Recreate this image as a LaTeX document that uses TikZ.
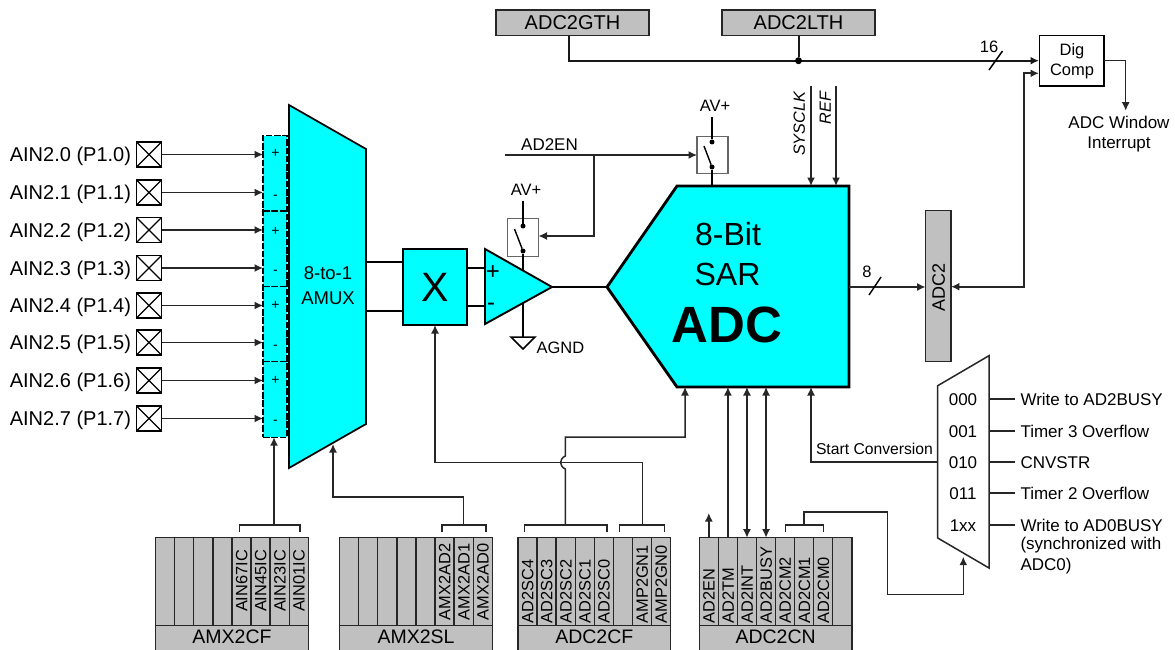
\documentclass[tikz,border=0pt]{standalone}
\usepackage{fontspec}
\setmainfont{Liberation Sans}
\usetikzlibrary{arrows.meta,calc}
\definecolor{cyn}{HTML}{00FFFF}
\definecolor{reg}{HTML}{C0C0C0}
\tikzset{
  lbl/.style={font=\fontsize{#1}{#1}\selectfont,text height=\dimexpr #1pt*716/1000\relax,text depth=0pt,inner sep=0pt,outer sep=0pt},
  wire/.style={line width=1.5pt,draw=black!85},
  arr/.style={wire,-{Latex[length=8.5pt,width=8pt]}},
  darr/.style={wire,{Latex[length=8.5pt,width=8pt]}-{Latex[length=8.5pt,width=8pt]}},
  pinbox/.style={draw,line width=1.3pt,minimum size=25pt,inner sep=0pt,outer sep=0pt,
    path picture={\draw[line width=1.1pt] (path picture bounding box.south west)--(path picture bounding box.north east)
      (path picture bounding box.north west)--(path picture bounding box.south east);}},
  cell/.style={draw=black!85,fill=reg,line width=1.3pt,minimum width=19.07pt,minimum height=88pt,inner sep=0pt,outer sep=0pt},
  hdr/.style={draw=black!85,fill=reg,line width=1.3pt,minimum width=152.5pt,minimum height=26.6pt,inner sep=0pt,outer sep=0pt},
  topreg/.style={draw=black!85,fill=reg,line width=1.6pt,minimum width=153pt,minimum height=25.7pt,inner sep=0pt,outer sep=0pt,font=\fontsize{20}{20}\selectfont},
  swbox/.style={draw=black!60,line width=1.3pt,minimum width=31pt,minimum height=37.5pt,inner sep=0pt,outer sep=0pt},
  dotn/.style={circle,fill=black,minimum size=5pt,inner sep=0pt,outer sep=0pt},
  dsh/.style={dash pattern=on 6.5pt off 1.8pt,line width=1.2pt},
}
\newcommand\regbank[3]{%
  \foreach \i in {0,...,7}{\node[cell] (#1c\i) at ({#2+9.53+19.07*\i},581.7) {};}
  \node[hdr] (#1h) at ({#2+76.3},639) {};
  \node[lbl=19.5] (#1t) at ({#2+76.3},637) {#3};
}
\newcommand\regtext[5]{\node[lbl=16.4,rotate=90,anchor=#3] (#1t#2) at (#1c#2 |- 0,#4) {#5};}
\begin{document}
\begin{tikzpicture}[x=1pt,y=-1pt]
\useasboundingbox (0,0) rectangle (1175,650);
% --- top registers
\node[topreg] (gth) at (572.5,22.8) {ADC2GTH};
\node[topreg] (lth) at (798.5,22.8) {ADC2LTH};
\node[draw,line width=1.6pt,minimum width=64.5pt,minimum height=50.7pt,inner sep=0pt,outer sep=0pt] (dig) at (1071.7,60.7) {};
\node[lbl=16.5] (digt1) at (1072,50) {Dig};
\node[lbl=16.5] (digt2) at (1072,70) {Comp};
\coordinate (cmpin1) at (1039,60.7);
\coordinate (cmpin2) at (1039,73.3);
\coordinate (gthout) at (569,36);
\draw[line width=2pt,draw=black!90,-{Latex[length=8.5pt,width=8pt]}] (gthout) |- (cmpin1);
\node[dotn,minimum size=7pt] (jn) at (lth.south |- cmpin1) {};
\draw[line width=2pt,draw=black!90] (lth.south) -- (jn);
\coordinate (s16a) at (989,70);\coordinate (s16b) at (1002.5,51);
\draw[line width=1.5pt] (s16a) -- (s16b);
\node[lbl=16.5] (n16) at (989,47) {16};
\coordinate (dout) at (1125.7,110.7);
\draw[arr] (dig.east) -| (dout);
\node[lbl=17] (win1) at (1119,122) {ADC Window};
\node[lbl=17] (win2) at (1119,142) {Interrupt};
% --- ADC2 data register
\node[draw=black!85,fill=reg,line width=1.4pt,minimum width=25.3pt,minimum height=151pt,inner sep=0pt,outer sep=0pt] (adc2) at (938.3,286.2) {};
\node[lbl=18,rotate=90] (adc2t) at (938.3,287) {ADC2};
\draw[darr,line width=1.8pt] (adc2.east |- 0,286.7) -| (1024,73.3) -- (cmpin2);
% --- ADC block
\coordinate (adcW) at (607,287);\coordinate (adcTL) at (677,186);\coordinate (adcTR) at (849,186);
\coordinate (adcBR) at (849,387);\coordinate (adcBL) at (677,387);
\draw[fill=cyn,line width=2.8pt,line join=miter] (adcW)--(adcTL)--(adcTR)--(adcBR)--(adcBL)--cycle;
\node[lbl=32] (adct1) at (728,234) {8-Bit};
\node[lbl=32] (adct2) at (727.5,274) {SAR};
\node[lbl=51,font=\fontsize{51}{51}\selectfont\bfseries] (adct3) at (727,324) {ADC};
\coordinate (adcE) at (849,287);
\draw[arr,line width=1.8pt] (adcE) -- (adc2.west |- adcE);
\draw[line width=1.4pt] (869,295) coordinate (s8a) -- (881,277) coordinate (s8b);
\node[lbl=16.5] (n8) at (867,272) {8};
% SYSCLK, REF
\coordinate (clkin) at (811,86);\coordinate (refin) at (836,86);
\draw[arr] (clkin) -- (clkin |- adcTR);
\draw[arr] (refin) -- (refin |- adcTR);
\node[lbl=16.2,rotate=90,anchor=east,font=\fontsize{16.2}{16.2}\selectfont\itshape] (clkt) at (799,92) {SYSCLK};
\node[lbl=16.2,rotate=90,anchor=east,font=\fontsize{16.2}{16.2}\selectfont\itshape] (reft) at (825,92) {REF};
% --- top switch
\node[swbox] (sw1) at (712.5,155) {};
\node[dotn] (sw1a) at (712,142) {};
\node[dotn] (sw1b) at (712,167) {};
\node[lbl=16.5] (av1) at (715,106) {AV+};
\coordinate (av1p) at (712,117);
\draw[line width=1.7pt] (av1p) -- (sw1a);
\draw[line width=1.4pt] (704,146) coordinate (sw1arm) -- (sw1b);
\draw[line width=1.7pt] (sw1b) -- (sw1b |- adcTL);
% AD2EN
\coordinate (enin) at (505,155);
\coordinate (enbr) at (594,155);
\node[lbl=17] (ent) at (549.5,144) {AD2EN};
\draw[arr] (enin) -- (sw1.west |- enin);
% --- lower switch
\node[swbox] (sw2) at (523,237.5) {};
\node[dotn] (sw2a) at (523,226) {};
\node[dotn] (sw2b) at (523,251) {};
\node[lbl=16.5] (av2) at (526,190) {AV+};
\coordinate (av2p) at (523,201);
\draw[line width=1.7pt] (av2p) -- (sw2a);
\draw[line width=1.4pt] (514.5,229) coordinate (sw2arm) -- (sw2b);
\coordinate (amppwr) at (523,272);
\draw[line width=1.7pt] (sw2b) -- (amppwr);
\draw[arr] (enbr) |- (sw2.east |- 0,236);
% ground
\coordinate (ampgnd) at (523,300);
\coordinate (gndc) at (523,337);
\draw[line width=1.7pt] (ampgnd) -- (gndc);
\draw[line width=1.5pt,line join=miter] (511,337) coordinate (g1) -- (535,337) coordinate (g2) -- (523,349) coordinate (g3) -- cycle;
\node[lbl=16.5,anchor=west] (agnd) at (536.5,348) {AGND};
% --- amp
\coordinate (ampT) at (485,249);\coordinate (ampB) at (485,324);\coordinate (ampE) at (552,287);
\draw[line width=1.5pt] (ampE) -- (adcW);
\draw[fill=cyn,line width=1.9pt,line join=miter] (ampT)--(ampE)--(ampB)--cycle;
\node[lbl=24] (pl) at (493,271) {+};
\node[lbl=24] (mi) at (491,302) {-};
% --- X block
\node[draw,fill=cyn,line width=1.9pt,minimum width=64pt,minimum height=76pt,inner sep=0pt,outer sep=0pt] (xb) at (435,287) {};
\node[lbl=41] (xt) at (435,287) {X};
\draw[line width=1.5pt] (xb.east |- 0,268) -- (ampT |- 0,268);
\draw[line width=1.5pt] (xb.east |- 0,306) -- (ampT |- 0,306);
% --- AMUX
\coordinate (muxTL) at (289,105);\coordinate (muxBL) at (289,468);\coordinate (muxTR) at (366,149);\coordinate (muxBR) at (366,424);
\draw[line width=1.5pt] (muxTR |- 0,262) -- (xb.west |- 0,262);
\draw[line width=1.5pt] (muxTR |- 0,311) -- (xb.west |- 0,311);
\draw[fill=cyn,line width=1.7pt,line join=miter] (muxTL)--(muxTR)--(muxBR)--(muxBL)--cycle;
\node[lbl=18.5] (muxt1) at (328,273) {8-to-1};
\node[lbl=18.5] (muxt2) at (328,298) {AMUX};
% --- dashed selector
\node[draw,dsh,fill=cyn,minimum width=24pt,minimum height=301.5pt,inner sep=0pt,outer sep=0pt] (dash) at (275,286.4) {};
\foreach \k/\y in {1/211,2/286.7,3/361.7}{
  \draw[dsh] (dash.west |- 0,\y) -- (dash.east |- 0,\y);
}
\foreach \i/\y/\s in {0/152/+,1/194/-,2/230/+,3/269/-,4/304/+,5/344/-,6/379/+,7/419/-}{
  \node[lbl=14] (sg\i) at (275.5,\y) {\s};
}
% --- pins
\foreach \i/\y in {0/154.5,1/192.5,2/230,3/268,4/305.5,5/342.5,6/380.5,7/418.5}{
  \node[lbl=20,anchor=east] (ain\i) at (131,\y) {AIN2.\i\ (P1.\i)};
  \node[pinbox] (pin\i) at (149,\y) {};
  \draw[arr] (pin\i.east) -- (dash.west |- pin\i);
}
% --- register banks
\regbank{cf}{155.7}{AMX2CF}
\regtext{cf}{4}{center}{581}{AIN67IC}
\regtext{cf}{5}{center}{581}{AIN45IC}
\regtext{cf}{6}{center}{581}{AIN23IC}
\regtext{cf}{7}{center}{581}{AIN01IC}
\regbank{sl}{339.7}{AMX2SL}
\regtext{sl}{5}{center}{582}{AMX2AD2}
\regtext{sl}{6}{center}{582}{AMX2AD1}
\regtext{sl}{7}{center}{582}{AMX2AD0}
\regbank{ac}{518}{ADC2CF}
\regtext{ac}{0}{west}{623.5}{AD2SC4}
\regtext{ac}{1}{west}{623.5}{AD2SC3}
\regtext{ac}{2}{west}{623.5}{AD2SC2}
\regtext{ac}{3}{west}{623.5}{AD2SC1}
\regtext{ac}{4}{west}{623.5}{AD2SC0}
\regtext{ac}{6}{west}{623.5}{AMP2GN1}
\regtext{ac}{7}{west}{623.5}{AMP2GN0}
\regbank{cn}{699.3}{ADC2CN}
\regtext{cn}{0}{west}{623.5}{AD2EN}
\regtext{cn}{1}{west}{623.5}{AD2TM}
\regtext{cn}{2}{west}{623.5}{AD2INT}
\regtext{cn}{3}{west}{623.5}{AD2BUSY}
\regtext{cn}{4}{west}{623.5}{AD2CM2}
\regtext{cn}{5}{west}{623.5}{AD2CM1}
\regtext{cn}{6}{west}{623.5}{AD2CM0}
% --- brackets
\draw[wire] (239.7,532)--(239.7,525) coordinate (b1a)--(300,525) coordinate (b1b)--(300,532);
\coordinate (b1s) at (274,525);
\draw[arr] (b1s) -- (dash.south -| b1s);
\draw[wire] (442,532)--(442,525)--(486,525)--(486,532);
\coordinate (b2s) at (463.7,525);\coordinate (b2t) at (333,444);
\draw[arr] (b2s) -- (463.7,497) -| (b2t);
\draw[wire] (524.7,532)--(524.7,525)--(607,525)--(607,532);
\coordinate (b3s) at (565.3,525);\coordinate (adcin) at (685,387);
\draw[arr] (b3s) -- (565.3,469) .. controls (559,466) and (559,459) .. (565.3,456) -- (565.3,437) coordinate (b3c) -| (adcin);
\draw[wire] (619.7,532)--(619.7,525)--(664.7,525)--(664.7,532);
\coordinate (b4s) at (642.3,525);
\draw[arr] (b4s) -- (642.3,462.7) -| (xb.south);
\draw[wire] (785.3,532)--(785.3,525)--(823.7,525)--(823.7,532);
\coordinate (b5s) at (804,525);\coordinate (msel) at (963.3,556.7);
\draw[arr] (b5s) -- (804,512) -- (887.3,512) -- (887.3,594.3) -| (msel);
% --- control bits
\coordinate (enout) at (709,513);
\draw[arr] (cnc0.north) -- (cnc0.north |- enout);
\draw[arr] (cnc1.north) -- (cnc1.north |- adcBL);
\draw[darr] (cnc2.north) -- (cnc2.north |- adcBL);
\draw[darr] (cnc3.north) -- (cnc3.north |- adcBL);
% --- start-of-conversion mux
\coordinate (mTL) at (937.7,385.7);\coordinate (mTR) at (989,355.7);\coordinate (mBR) at (989,568);\coordinate (mBL) at (937.7,538);
\draw[line width=1.5pt,line join=miter,draw=black!85] (mTL)--(mTR)--(mBR)--(mBL)--cycle;
\coordinate (mout) at (937.7,462);\coordinate (scin) at (811,387);
\draw[arr] (mout) -| (scin);
\node[lbl=15.7,anchor=west] (sct) at (816,449) {Start Conversion};
\foreach \k/\y/\c/\t in {0/399/000/Write to AD2BUSY,1/431/001/Timer 3 Overflow,2/462/010/CNVSTR,3/493/011/Timer 2 Overflow,4/525/1xx/Write to AD0BUSY}{
  \node[lbl=17] (mc\k) at (963,\y) {\c};
  \node[lbl=17,anchor=west] (mi\k) at (1020.5,\y) {\t};
  \draw[wire] (mTR |- mi\k) -- (1015,\y);
}
\node[lbl=17,anchor=west] (mi5) at (1020.5,543.5) {(synchronized with};
\node[lbl=17,anchor=west] (mi6) at (1020.5,564) {ADC0)};
\end{tikzpicture}
\end{document}
